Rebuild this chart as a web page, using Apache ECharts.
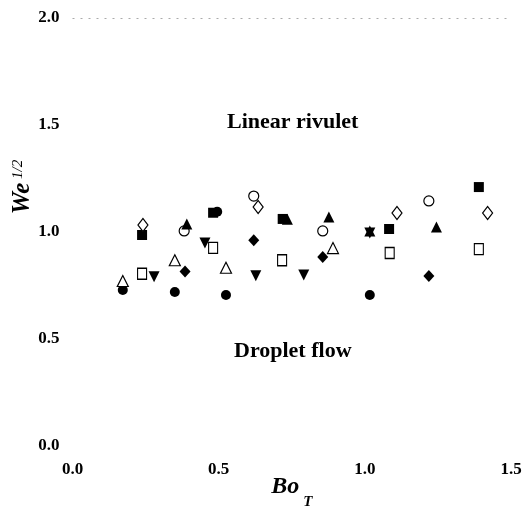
<!DOCTYPE html>
<html>
<head>
<meta charset="utf-8">
<script src="https://cdn.jsdelivr.net/npm/echarts@6/dist/echarts.min.js"></script>
<style>
  html, body { margin: 0; padding: 0; background: #fff; }
  #main { width: 526px; height: 514px; }
</style>
</head>
<body>
<div id="main"></div>
<script>
// data: [Bo_T, We^1/2]
var filledCircle = [[0.172, 0.729], [0.35, 0.72], [0.525, 0.706], [1.017, 0.706], [0.495, 1.095]];
var openCircle = [[0.382, 1.005], [0.62, 1.168], [0.856, 1.005], [1.219, 1.145]];
var filledSquare = [[0.238, 0.986], [0.481, 1.09], [0.719, 1.061], [1.083, 1.014], [1.39, 1.21]];
var openSquare = [[0.238, 0.805], [0.481, 0.926], [0.717, 0.868], [1.085, 0.902], [1.39, 0.92]];
var filledTriUp = [[0.391, 1.037], [0.735, 1.06], [0.877, 1.07], [1.017, 1.005], [1.245, 1.023]];
var openTriUp = [[0.172, 0.771], [0.35, 0.868], [0.525, 0.833], [0.891, 0.925]];
var filledTriDown = [[0.279, 0.791], [0.453, 0.949], [0.627, 0.795], [0.791, 0.799], [1.017, 0.995]];
var filledDiamond = [[0.385, 0.815], [0.62, 0.961], [0.856, 0.883], [1.219, 0.794]];
var openDiamond = [[0.241, 1.033], [0.635, 1.117], [1.11, 1.089], [1.42, 1.089]];

var xTicks = [0, 0.5, 1.0, 1.5];
var yTicks = [0, 0.5, 1.0, 1.5, 2.0];

var dom = document.getElementById('main');
var myChart = echarts.init(dom);

var serif = '"Liberation Serif", "DejaVu Serif", serif';
var triDown = 'path://M0,0 L10,0 L5,10 Z';

function sc(name, data, symbol, size, filled) {
    return {
        name: name,
        type: 'scatter',
        data: data,
        symbol: symbol,
        symbolSize: size,
        itemStyle: filled
            ? { color: '#000', opacity: 1 }
            : { color: '#fff', borderColor: '#000', borderWidth: 1.2, opacity: 1 }
    };
}

var option = {
    backgroundColor: '#fff',
    animation: false,
    grid: { left: 72.5, right: 15, top: 18, bottom: 68, outerBoundsMode: 'none', containLabel: false },
    xAxis: {
        type: 'value',
        min: xTicks[0],
        max: xTicks[xTicks.length - 1],
        interval: 0.5,
        name: '{a|Bo}{b|T}',
        nameLocation: 'middle',
        nameGap: 29,
        nameMoveOverlap: false,
        nameTextStyle: {
            rich: {
                a: { fontFamily: serif, fontWeight: 'bold', fontStyle: 'italic', fontSize: 24, color: '#000', lineHeight: 30, verticalAlign: 'top' },
                b: { fontFamily: serif, fontWeight: 'bold', fontStyle: 'italic', fontSize: 15, color: '#000', padding: [20, 0, 0, 4], verticalAlign: 'bottom' }
            }
        },
        axisLine: { show: false },
        axisTick: { show: false },
        splitLine: { show: false },
        axisLabel: {
            margin: 15,
            fontFamily: serif, fontWeight: 'bold', fontSize: 17, color: '#000',
            formatter: function (v) { return v.toFixed(1); }
        }
    },
    yAxis: {
        type: 'value',
        min: yTicks[0],
        max: yTicks[yTicks.length - 1],
        interval: 0.5,
        axisLine: { show: false },
        axisTick: { show: false },
        splitLine: {
            show: true,
            lineStyle: {
                color: ['rgba(0,0,0,0)', 'rgba(0,0,0,0)', 'rgba(0,0,0,0)', 'rgba(0,0,0,0)', '#aaa'],
                type: [2, 6],
                width: 1
            }
        },
        axisLabel: {
            margin: 13,
            fontFamily: serif, fontWeight: 'bold', fontSize: 17, color: '#000',
            formatter: function (v) { return v.toFixed(1); }
        }
    },
    graphic: [
        {
            type: 'text', x: 23, y: 187, rotation: Math.PI / 2,
            style: {
                text: '{a|We}{b| 1/2}',
                align: 'center', verticalAlign: 'middle',
                rich: {
                    a: { font: 'italic bold 25px ' + serif, fill: '#000', verticalAlign: 'bottom' },
                    b: { font: 'italic 15px ' + serif, fill: '#000', padding: [0, 0, 10, 0], verticalAlign: 'top' }
                }
            }
        },
        {
            type: 'text', left: 227, top: 111,
            style: { text: 'Linear rivulet', font: 'bold 22px ' + serif, fill: '#000' }
        },
        {
            type: 'text', left: 234, top: 340,
            style: { text: 'Droplet flow', font: 'bold 22px ' + serif, fill: '#000' }
        }
    ],
    series: [
        sc('filled circle', filledCircle, 'circle', 10, true),
        sc('open circle', openCircle, 'circle', 10, false),
        sc('filled square', filledSquare, 'rect', 10, true),
        sc('open square', openSquare, 'rect', [9, 11], false),
        sc('filled triangle', filledTriUp, 'triangle', 11, true),
        sc('open triangle', openTriUp, 'triangle', 11, false),
        sc('filled triangle down', filledTriDown, triDown, 11, true),
        sc('filled diamond', filledDiamond, 'diamond', [11, 12], true),
        sc('open diamond', openDiamond, 'diamond', [10, 13], false)
    ]
};

if (option && typeof option === 'object') {
    myChart.setOption(option, true);
}
</script>
</body>
</html>
